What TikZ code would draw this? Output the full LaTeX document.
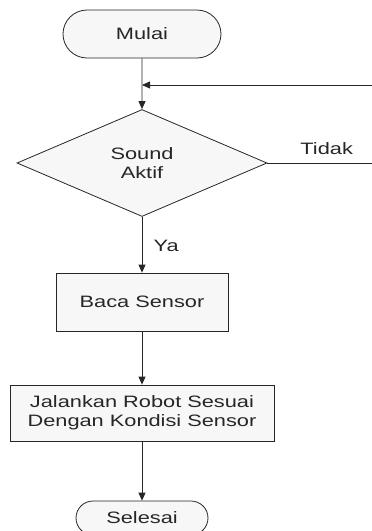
\documentclass[tikz,border=0pt]{standalone}
\usepackage{fontspec}
\setmainfont{Liberation Sans}[FakeStretch=1.32]
\usepackage{tikz}
\usetikzlibrary{shapes.geometric, shapes.misc, arrows.meta}

\tikzset{
  garis/.style={line width=0.8pt, black!85},
  panah/.style={garis, -{Triangle[length=8pt, width=7pt]}},
  kotak/.style={draw, garis, fill=black!3, inner sep=0pt, align=center},
  terminal/.style={kotak, rounded rectangle},
  keputusan/.style={kotak, diamond},
  proses/.style={kotak, rectangle}
}

\begin{document}
\begin{tikzpicture}[x=1pt, y=-1pt, font=\fontsize{16.5}{19}\selectfont]
  % batas gambar
  \useasboundingbox (0,0) rectangle (372,531);
  \clip (0,0) rectangle (372,531);

  % Bentuk
  \node[terminal, minimum width=158pt, minimum height=48pt] (mulai) at (142,34) {Mulai};
  \node[keputusan, minimum width=250pt, minimum height=107pt] (sound) at (142,163) {Sound\\Aktif};
  \node[proses, minimum width=172pt, minimum height=58pt] (baca) at (142,302) {Baca Sensor};
  \node[proses, minimum width=264pt, minimum height=56pt] (jalan) at (142,413) {Jalankan Robot Sesuai\\Dengan Kondisi Sensor};
  \node[terminal, minimum width=132pt, minimum height=34pt] (selesai) at (142,518) {Selesai};

  % Titik bantu di tepi kanan
  \coordinate (kanan) at (380,163);
  \coordinate (atas) at (380,85);

  % Alur
  \draw[panah] (mulai) -- (sound);
  \draw[panah] (sound) -- node[right, xshift=8pt, yshift=-1pt] {Ya} (baca);
  \draw[panah] (baca) -- (jalan);
  \draw[panah] (jalan) -- (selesai);

  % Ulang jika tidak
  \draw[garis] (sound.east) -- node[above, xshift=3pt, yshift=5pt] {Tidak} (kanan) -- (atas);
  \draw[panah] (atas) -- (mulai.south |- atas);
\end{tikzpicture}
\end{document}
